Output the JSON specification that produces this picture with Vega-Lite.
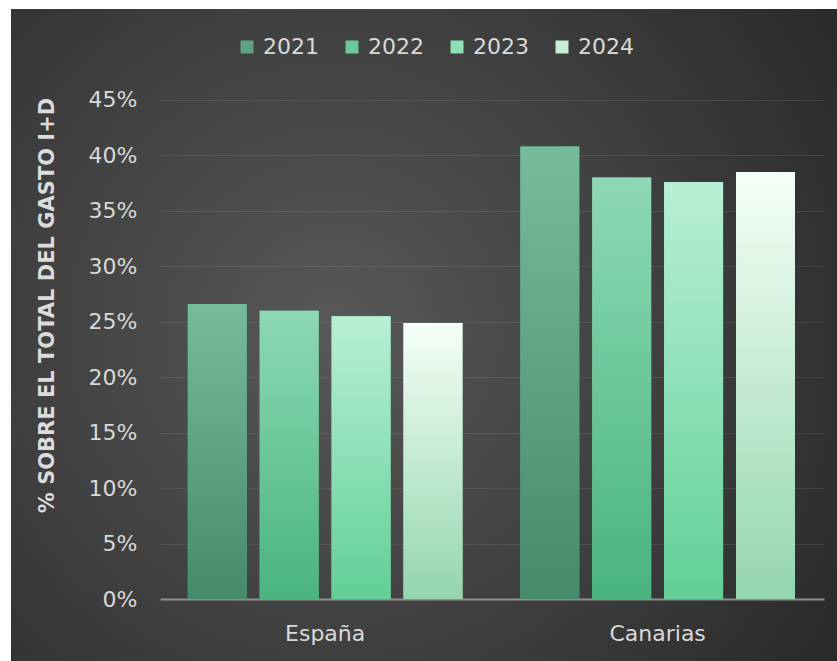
{
  "$schema": "https://vega.github.io/schema/vega-lite/v6.json",
  "width": 826,
  "height": 652,
  "autosize": {"type": "none"},
  "padding": {"left": 11, "top": 9, "right": 0, "bottom": 0},
  "background": "#ffffff",
  "config": {
    "font": "DejaVu Sans",
    "view": {
      "stroke": null,
      "fill": {
        "gradient": "radial",
        "x1": 0.39, "y1": 0.49, "r1": 0,
        "x2": 0.39, "y2": 0.49, "r2": 0.78,
        "stops": [
          {"offset": 0, "color": "#585858"},
          {"offset": 1, "color": "#262626"}
        ]
      }
    }
  },
  "data": {
    "values": [
      {"Region": "España", "Año": "2021", "Valor": 0.266},
      {"Region": "España", "Año": "2022", "Valor": 0.260},
      {"Region": "España", "Año": "2023", "Valor": 0.255},
      {"Region": "España", "Año": "2024", "Valor": 0.249},
      {"Region": "Canarias", "Año": "2021", "Valor": 0.408},
      {"Region": "Canarias", "Año": "2022", "Valor": 0.380},
      {"Region": "Canarias", "Año": "2023", "Valor": 0.376},
      {"Region": "Canarias", "Año": "2024", "Valor": 0.385}
    ]
  },
  "encoding": {
    "x": {
      "field": "Region",
      "type": "nominal",
      "sort": ["España", "Canarias"],
      "scale": {"paddingInner": 0.174, "paddingOuter": 0.329, "align": 0.808},
      "axis": {
        "title": null,
        "orient": "bottom",
        "offset": -62,
        "domain": false,
        "ticks": false,
        "labelAngle": 0,
        "labelFont": "DejaVu Sans",
        "labelFontSize": 22,
        "labelColor": "#d9d9d9",
        "labelBaseline": "alphabetic",
        "labelPadding": 41
      }
    },
    "xOffset": {
      "field": "Año",
      "type": "nominal",
      "scale": {"domain": ["2021", "2022", "2023", "2024"], "paddingInner": 0.18, "paddingOuter": 0}
    },
    "y": {
      "field": "Valor",
      "type": "quantitative",
      "stack": null,
      "scale": {"domain": [-0.05591, 0.53206], "nice": false, "zero": false},
      "axis": {
        "orient": "left",
        "offset": -149,
        "values": [0, 0.05, 0.1, 0.15, 0.2, 0.25, 0.3, 0.35, 0.4, 0.45],
        "format": ".0%",
        "domain": false,
        "grid": false,
        "ticks": true,
        "tickSize": -664,
        "tickColor": {"condition": {"test": "datum.value === 0", "value": "#8f8f8f"}, "value": "rgba(255,255,255,0.09)"},
        "tickWidth": {"condition": {"test": "datum.value === 0", "value": 2}, "value": 1},
        "labelPadding": 687,
        "labelFont": "DejaVu Sans",
        "labelFontSize": 22,
        "labelColor": "#d9d9d9",
        "title": "% SOBRE EL TOTAL DEL GASTO I+D",
        "titleFont": "DejaVu Sans",
        "titleFontSize": 21,
        "titleFontWeight": "bold",
        "titleColor": "#dcdcdc",
        "titleAngle": -90,
        "titleAlign": "center",
        "titleBaseline": "middle",
        "titleX": -113,
        "titleY": 296
      }
    },
    "y2": {"datum": 0}
  },
  "layer": [
    {
      "mark": {"type": "bar"},
      "encoding": {
        "color": {
          "field": "Año",
          "type": "nominal",
          "scale": {
            "domain": ["2021", "2022", "2023", "2024"],
            "range": ["#5ca384", "#6cc79a", "#8fe0b7", "#c8eed6"]
          },
          "legend": {
            "orient": "none",
            "legendX": 225,
            "legendY": 27,
            "direction": "horizontal",
            "title": null,
            "padding": 0,
            "symbolType": "square",
            "symbolSize": 169,
            "symbolStrokeWidth": 0,
            "symbolOpacity": 1,
            "labelFont": "DejaVu Sans",
            "labelFontSize": 22,
            "labelColor": "#d9d9d9",
            "labelOffset": 5,
            "columnPadding": 22
          }
        }
      }
    },
    {
      "transform": [{"filter": "datum['Año'] === '2021'"}],
      "mark": {"type": "bar", "color": {"gradient": "linear", "x1": 0, "y1": 0, "x2": 0, "y2": 1, "stops": [{"offset": 0, "color": "#74bc9b"}, {"offset": 1, "color": "#448b6c"}]}}
    },
    {
      "transform": [{"filter": "datum['Año'] === '2022'"}],
      "mark": {"type": "bar", "color": {"gradient": "linear", "x1": 0, "y1": 0, "x2": 0, "y2": 1, "stops": [{"offset": 0, "color": "#8dd9b4"}, {"offset": 1, "color": "#49b47f"}]}}
    },
    {
      "transform": [{"filter": "datum['Año'] === '2023'"}],
      "mark": {"type": "bar", "color": {"gradient": "linear", "x1": 0, "y1": 0, "x2": 0, "y2": 1, "stops": [{"offset": 0, "color": "#b8f0d6"}, {"offset": 1, "color": "#61cf96"}]}}
    },
    {
      "transform": [{"filter": "datum['Año'] === '2024'"}],
      "mark": {"type": "bar", "color": {"gradient": "linear", "x1": 0, "y1": 0, "x2": 0, "y2": 1, "stops": [{"offset": 0, "color": "#f5fff7"}, {"offset": 1, "color": "#93d6ad"}]}}
    }
  ]
}
